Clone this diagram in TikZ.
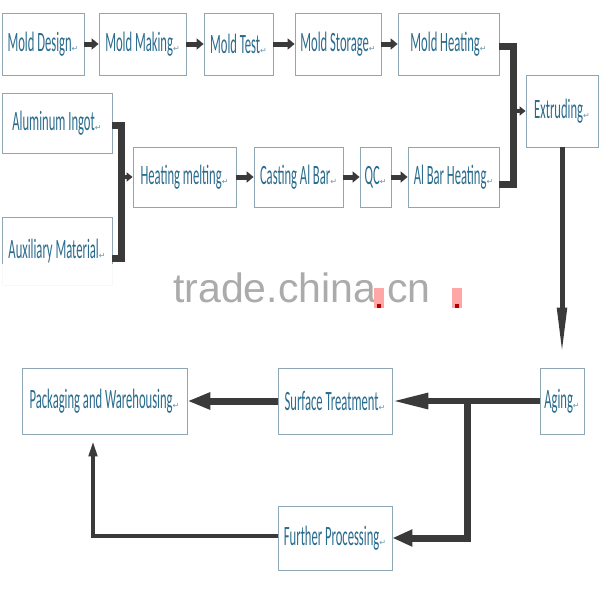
\documentclass[tikz,border=0pt]{standalone}
\usepackage{fontspec}
\setmainfont{Carlito}[FakeStretch=0.45]
\newfontfamily\wmfont{Liberation Sans}
\newfontfamily\symfont{DejaVu Sans}
\usetikzlibrary{arrows.meta}
\definecolor{txt}{HTML}{2A6C8E}
\definecolor{bord}{HTML}{8FA7B5}
\definecolor{conn}{HTML}{3A3A3A}
\newcommand{\retmark}{{\symfont\fontsize{8}{8}\selectfont\color{txt!70}↵}}
\begin{document}
\begin{tikzpicture}[x=1pt,y=-1pt,
  box/.style={draw=bord, line width=0.8pt, fill=white, text=txt,
    font=\fontsize{28}{28}\selectfont, inner sep=0pt, minimum height=60pt},
  blk/.style={draw=conn, line width=5pt, -{Triangle[length=7pt,width=11pt]}},
  bus/.style={draw=conn, line width=7pt, line join=miter},
  wm/.style={font=\wmfont\fontsize{41}{41}\selectfont, text=black!33, inner sep=0pt, anchor=base west}
]
\useasboundingbox (0,0) rectangle (600,600);

% row 1
\node[box, minimum width=82pt, minimum height=62pt] (md) at (43,44) {Mold Design\retmark};
\node[box, minimum width=87pt, minimum height=62pt] (mm) at (142.5,44) {Mold Making\retmark};
\node[box, minimum width=69pt, minimum height=62pt] (mt) at (238.5,44) {Mold Test\retmark};
\node[box, minimum width=86pt, minimum height=62pt] (ms) at (338,44) {Mold Storage\retmark};
\node[box, minimum width=101pt, minimum height=62pt] (mh) at (448.5,44) {Mold Heating\retmark};
\node[box, minimum width=72pt, minimum height=72pt] (ex) at (562,111) {Extruding\retmark};

% row 2
\node[box, minimum width=110pt] (ai) at (57,123) {Aluminum Ingot\retmark};
\node[box, minimum width=110pt, minimum height=68pt] (ax) at (57,251) {Auxiliary Material\retmark};
\node[box, minimum width=103pt] (hm) at (184.5,177) {Heating melting\retmark};
\node[box, minimum width=89pt] (cb) at (298.5,177) {Casting Al Bar\retmark};
\node[box, minimum width=31pt] (qc) at (375.5,177) {QC\retmark};
\node[box, minimum width=91pt] (abh) at (453.5,177) {Al Bar Heating\retmark};

% row 3
\node[box, minimum width=44pt, minimum height=66pt] (ag) at (562,401) {Aging\retmark};
\node[box, minimum width=114pt, minimum height=66pt] (st) at (335,401) {Surface Treatment\retmark};
\node[box, minimum width=165pt, minimum height=66pt] (pw) at (104.5,401) {Packaging and Warehousing\retmark};
\node[box, minimum width=114pt, minimum height=64pt] (fp) at (335,538) {Further Processing\retmark};

% top row arrows
\draw[blk] (md) -- (mm);
\draw[blk] (mm) -- (mt);
\draw[blk] (mt) -- (ms);
\draw[blk] (ms) -- (mh);

% row 2 arrows
\draw[blk] (hm) -- (cb);
\draw[blk] (cb) -- (qc);
\draw[blk] (qc) -- (abh);

% mold heating / al bar heating bus to extruding
\coordinate (j1) at (513,46);
\coordinate (j2) at (513,184);
\coordinate (j3) at (513,111);
\draw[bus] (mh.east |- j1) -- (j1) -- (j2) -- (abh.east |- j2);
\draw[draw=conn, line width=4pt, -{Triangle[length=6pt,width=9pt]}] (j3) -- (ex.west);

% ingot / auxiliary bus to heating melting
\coordinate (k1) at (121,125);
\coordinate (k2) at (121,258);
\coordinate (k3) at (121,177);
\draw[bus] (ai.east |- k1) -- (k1) -- (k2) -- (ax.east |- k2);
\draw[draw=conn, line width=4pt, -{Triangle[length=6pt,width=9pt]}] (k3) -- (hm.west);

% extruding to aging
\draw[draw=conn, line width=5pt, -{Triangle[length=50pt,width=9pt]}, shorten >=10pt] (ex.south) -- (ag.north);

% bottom flow
\draw[draw=conn, line width=6pt, -{Triangle[length=36pt,width=15pt]}] (ag) -- (st);
\draw[draw=conn, line width=7pt, -{Triangle[length=23pt,width=16pt]}] (st) -- (pw);
\coordinate (b1) at (467,401);
\coordinate (b2) at (467,538);
\draw[draw=conn, line width=7pt, line join=miter, -{Triangle[length=20pt,width=16pt]}] (b1) -- (b2) -- (fp.east);
\coordinate (c1) at (93,536);
\draw[draw=conn, line width=4pt, line join=miter, -{Triangle[length=16pt,width=8pt]}, shorten >=6pt] (fp.west |- c1) -- (c1) -- (c1 |- pw.south);

% watermark
\fill[white, opacity=0.92] (0,264) rectangle (135,300);
\node[wm] (wmk) at (173,302) {trade.china.cn};
\fill[red!35] (374,288) rectangle (384,308);
\fill[red!70!black] (377,304) rectangle (381,308);
\fill[red!35] (452,288) rectangle (462,308);
\fill[red!70!black] (455,304) rectangle (459,308);
\end{tikzpicture}
\end{document}
